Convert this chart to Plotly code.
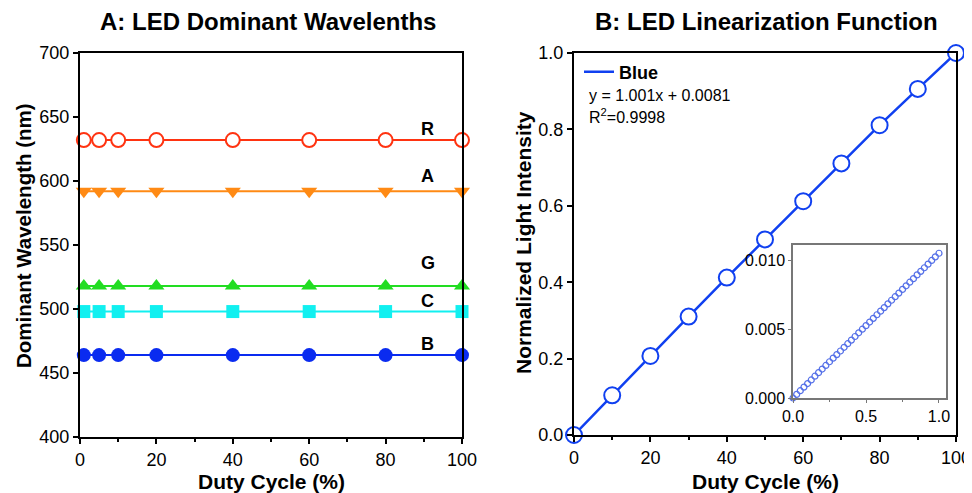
import plotly.graph_objects as go

# ---------------- data ----------------
duty_a = [1, 5, 10, 20, 40, 60, 80, 100]
wl_R = [632, 632, 632, 632, 632, 632, 632, 632]
wl_A = [592, 592, 592, 592, 592, 592, 592, 592]
wl_G = [518, 518, 518, 518, 518, 518, 518, 518]
wl_C = [498, 498, 498, 498, 498, 498, 498, 498]
wl_B = [464, 464, 464, 464, 464, 464, 464, 464]
led_labels = ["R", "A", "G", "C", "B"]
label_x = [91, 91, 91, 91, 91]
label_y = [641, 604, 536, 506, 473]

duty_b = [0, 10, 20, 30, 40, 50, 60, 70, 80, 90, 100]
intensity = [0.0, 0.104, 0.207, 0.31, 0.412, 0.512, 0.612, 0.711, 0.811, 0.906, 1.0]

inset_x = [0.0, 0.025, 0.05, 0.075, 0.1, 0.125, 0.15, 0.175, 0.2, 0.225, 0.25,
           0.275, 0.3, 0.325, 0.35, 0.375, 0.4, 0.425, 0.45, 0.475, 0.5,
           0.525, 0.55, 0.575, 0.6, 0.625, 0.65, 0.675, 0.7, 0.725, 0.75,
           0.775, 0.8, 0.825, 0.85, 0.875, 0.9, 0.925, 0.95, 0.975, 1.0]
inset_y = [0.0, 0.00026, 0.00053, 0.00079, 0.00105, 0.00131, 0.00158, 0.00184,
           0.0021, 0.00236, 0.00263, 0.00289, 0.00315, 0.00341, 0.00368, 0.00394,
           0.0042, 0.00446, 0.00473, 0.00499, 0.00525, 0.00551, 0.00578, 0.00604,
           0.0063, 0.00656, 0.00683, 0.00709, 0.00735, 0.00761, 0.00788, 0.00814,
           0.0084, 0.00866, 0.00893, 0.00919, 0.00945, 0.00971, 0.00998, 0.01024,
           0.0105]

# ---------------- layout helpers (page has an 8px body margin) ----------------
OFF = 8
W, H = 972 - OFF, 493 - OFF


def px(x):
    return (x - OFF) / W


def py(y):
    return 1 - (y - OFF) / H


FONT = "Liberation Sans, Arial, sans-serif"
fig = go.Figure()

series = [
    ("R", wl_R, "#FF3311", "circle", 14, "white"),
    ("A", wl_A, "#FF8A14", "triangle-down", 14, None),
    ("G", wl_G, "#22DD22", "triangle-up", 14, None),
    ("C", wl_C, "#11F0F0", "square", 13, None),
    ("B", wl_B, "#0A2BF0", "circle", 14, None),
]
for name, ys, col, sym, sz, fill in series:
    fig.add_trace(go.Scatter(
        x=duty_a, y=ys, mode="lines+markers", name=name, showlegend=False,
        line=dict(color=col, width=2),
        marker=dict(symbol=sym, size=sz, color=fill or col,
                    line=dict(color=col, width=2 if fill else 0)),
        cliponaxis=False, xaxis="x", yaxis="y"))

fig.add_trace(go.Scatter(
    x=duty_b, y=intensity, mode="lines+markers", name="Blue", showlegend=False,
    line=dict(color="#1040F0", width=2.5),
    marker=dict(symbol="circle", size=16, color="white", line=dict(color="#1040F0", width=2)),
    cliponaxis=False, xaxis="x2", yaxis="y2"))
# legend entry (line only)
fig.add_trace(go.Scatter(
    x=[None], y=[None], mode="lines", name="<b>Blue</b>", showlegend=True,
    line=dict(color="#1040F0", width=2.5), xaxis="x2", yaxis="y2"))

fig.add_trace(go.Scatter(
    x=inset_x, y=inset_y, mode="markers", showlegend=False,
    marker=dict(symbol="circle-open", size=6, color="#5570E8", line=dict(width=1.2)),
    cliponaxis=False, xaxis="x3", yaxis="y3"))

axis_common = dict(showline=True, linecolor="black", linewidth=2, mirror=True,
                   ticks="outside", ticklen=5, tickwidth=1.5, tickcolor="black",
                   showgrid=False, zeroline=False, automargin=False,
                   tickfont=dict(family=FONT, size=18, color="black"))
minor_x = dict(tickvals=[10, 30, 50, 70, 90], ticks="outside", ticklen=3,
               tickcolor="black", tickwidth=1.5)
inset_axis = dict(showline=True, linecolor="#777777", linewidth=1.5, mirror=True,
                  ticks="outside", ticklen=3, tickcolor="#777777",
                  showgrid=False, zeroline=False, automargin=False,
                  tickfont=dict(family=FONT, size=16, color="black"))

fig.update_layout(
    width=W, height=H,
    margin=dict(l=0, r=0, t=0, b=0, autoexpand=False),
    paper_bgcolor="white", plot_bgcolor="white",
    showlegend=True,
    legend=dict(x=px(579), y=py(72), xanchor="left", yanchor="middle",
                bgcolor="rgba(0,0,0,0)", font=dict(family=FONT, size=18, color="black"),
                itemwidth=30, tracegroupgap=0),
    xaxis=dict(domain=[px(80), px(462)], range=[0, 100], tickvals=[0, 20, 40, 60, 80, 100],
               minor=minor_x, anchor="y", **axis_common),
    yaxis=dict(domain=[py(437), py(53)], range=[400, 700], tickvals=[400, 450, 500, 550, 600, 650, 700],
               anchor="x", **axis_common),
    xaxis2=dict(domain=[px(574), px(956)], range=[0, 100], tickvals=[0, 20, 40, 60, 80, 100],
                minor=minor_x, anchor="y2", **axis_common),
    yaxis2=dict(domain=[py(435), py(53)], range=[0, 1.0], tickvals=[0, 0.2, 0.4, 0.6, 0.8, 1.0],
                tickformat=".1f", anchor="x2", **axis_common),
    xaxis3=dict(domain=[px(793), px(946)], range=[0, 1.048], tickvals=[0, 0.5, 1.0], tickformat=".1f",
                minor=dict(tickvals=[0.25, 0.75], ticks="outside", ticklen=2, tickcolor="#777777"),
                anchor="y3", **inset_axis),
    yaxis3=dict(domain=[py(398), py(245)], range=[0, 0.0111], tickvals=[0, 0.005, 0.01], tickformat=".3f",
                anchor="x3", **inset_axis),
)

TF = dict(family=FONT, size=24, color="black")
AF = dict(family=FONT, size=21, color="black")
annotations = [
    dict(text="<b>A: LED Dominant Wavelenths</b>", x=px(268), y=py(21), font=TF),
    dict(text="<b>B: LED Linearization Function</b>", x=px(766), y=py(21), font=TF),
    dict(text="<b>Duty Cycle (%)</b>", x=px(271), y=py(481), font=AF),
    dict(text="<b>Duty Cycle (%)</b>", x=px(765), y=py(481), font=AF),
    dict(text="<b>Dominant Wavelength (nm)</b>", x=px(23), y=py(236),
         font=dict(family=FONT, size=20.5, color="black"), textangle=-90),
    dict(text="<b>Normalized Light Intensity</b>", x=px(523), y=py(243), font=AF, textangle=-90),
    dict(text="y = 1.001x + 0.0081", x=px(587), y=py(95), xanchor="left",
         font=dict(family=FONT, size=16, color="black")),
    dict(text="R<sup>2</sup>=0.9998", x=px(587), y=py(116), xanchor="left",
         font=dict(family=FONT, size=16, color="black")),
]
for a in annotations:
    a.setdefault("xanchor", "center")
    a.update(xref="paper", yref="paper", showarrow=False, yanchor="middle")
for lab, lx, ly in zip(led_labels, label_x, label_y):
    annotations.append(dict(text="<b>%s</b>" % lab, x=lx, y=ly, xref="x", yref="y", showarrow=False,
                            font=dict(family=FONT, size=18, color="black")))
fig.update_layout(annotations=annotations)

fig.write_html("out.html")
